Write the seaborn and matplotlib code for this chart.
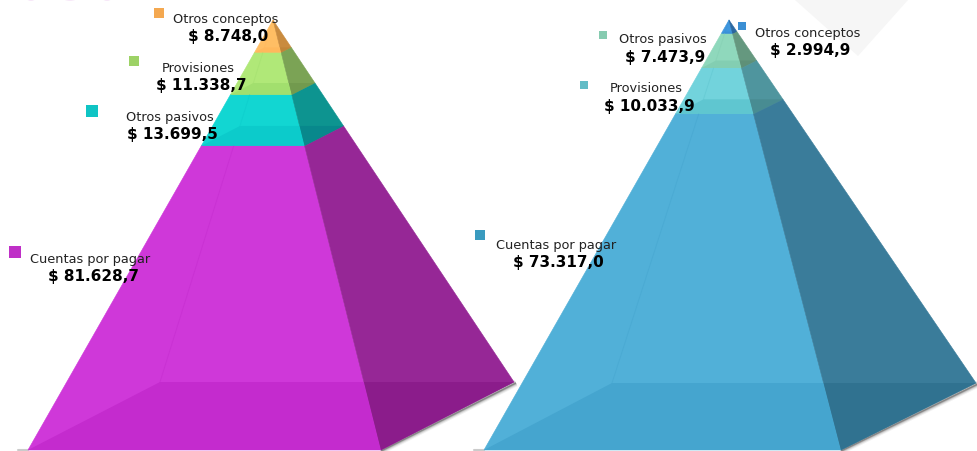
import numpy as np
import pandas as pd
import seaborn as sns
import matplotlib.pyplot as plt

left_categories = ['Otros conceptos', 'Provisiones', 'Otros pasivos', 'Cuentas por pagar']
right_categories = ['Otros conceptos', 'Otros pasivos', 'Provisiones', 'Cuentas por pagar']
left_values = [8748.0, 11338.7, 13699.5, 81628.7]
right_values = [2994.9, 7473.9, 10033.9, 73317.0]
left_value_text = ['$ 8.748,0', '$ 11.338,7', '$ 13.699,5', '$ 81.628,7']
right_value_text = ['$ 2.994,9', '$ 7.473,9', '$ 10.033,9', '$ 73.317,0']

# front, front bottom, side, side bottom
left_colors = [
    ['#ffbe64', '#ffb85c', '#c98b3f', '#c08539'],
    ['#b0e878', '#a2df6e', '#7ba355', '#729a4e'],
    ['#12d6d2', '#0ccbcb', '#0d9490', '#08888c'],
    ['#cf38d9', '#c42bce', '#962796', '#8b1c8b'],
]
right_colors = [
    ['#3f97de', '#3a90d8', '#2c69a2', '#2a639c'],
    ['#8fd8bc', '#83ceb2', '#65987f', '#5e9078'],
    ['#72d3dc', '#5fc6d0', '#4f959e', '#488c92'],
    ['#51b0d8', '#45a5cf', '#3a7c9a', '#307290'],
]
left_marker_colors = ['#f4a850', '#9dd266', '#0fc4c4', '#bf2fc7']
right_marker_colors = ['#3b8fd4', '#86cbb0', '#62bcc6', '#3a9bbf']

# pyramid outline in pixels: apex, front left, front right, back right, back left
left_shape = np.array([[273, 20], [28, 450], [381, 450], [514, 382], [160, 382]], dtype=float)
right_shape = np.array([[729, 20], [484, 450], [841, 450], [976, 383], [612, 383]], dtype=float)

# legend squares and labels (x, y in pixels)
left_squares = [(159, 13), (134, 61), (92, 111), (15, 252)]
right_squares = [(742, 26), (603, 35), (584, 85), (480, 235)]
left_labels = [(226, 19), (198.5, 68), (170, 117), (90.5, 259)]
right_labels = [(808, 33), (662.5, 40), (646.5, 89), (556, 245)]


def point(shape, i, t):
    return shape[0] + (shape[i] - shape[0]) * t


def draw_pyramid(ax, shape, values, colors):
    cuts = np.concatenate([[0], np.cumsum(values) / np.sum(values)])
    # shadow under the base
    for w, a in [(5, 0.08), (3.5, 0.14), (2, 0.25), (1, 0.4)]:
        ax.plot([shape[2][0], shape[3][0] + 2], [shape[2][1] + 1, shape[3][1] + 1],
                color='#444444', lw=w, alpha=a, solid_capstyle='butt', zorder=1)
    ax.plot([shape[1][0] - 10, shape[1][0]], [shape[1][1] - 0.5, shape[1][1] - 0.5],
            color='#999999', lw=1.5, alpha=0.5, zorder=1)
    for k, (t0, t1) in enumerate(zip(cuts[:-1], cuts[1:])):
        front, front_base, side, side_base = colors[k]
        face = [point(shape, 1, t1), point(shape, 2, t1), point(shape, 2, t0), point(shape, 1, t0)]
        ax.fill(*zip(*face), color=front, lw=0.4, zorder=2)
        face = [point(shape, 2, t1), point(shape, 3, t1), point(shape, 3, t0), point(shape, 2, t0)]
        ax.fill(*zip(*face), color=side, lw=0.4, zorder=2)
        # bottom of the slice seen through the front and the side
        a, b, c, d = [point(shape, i, t1) for i in (1, 2, 3, 4)]
        top = point(shape, 2, t0)
        s = (d[1] - a[1]) / (top[1] - b[1])
        crease = b + (top - b) * s
        ax.fill(*zip(a, b, crease, d), color=front_base, lw=0, zorder=3)
        ax.fill(*zip(b, c, crease), color=side_base, lw=0, zorder=3)
        # back edge showing through, stops at the top of the slice front
        y_top = max(point(shape, 1, t0)[1], point(shape, 4, t0)[1])
        t_top = (y_top - shape[0][1]) / (shape[4][1] - shape[0][1])
        back0 = point(shape, 4, t_top)
        ax.plot([back0[0], d[0]], [back0[1], d[1]], color=front_base, lw=0.7, alpha=0.5, zorder=4)


sns.set_theme(style='white')
plt.rcParams['font.family'] = ['DejaVu Sans']

fig, ax = plt.subplots(figsize=(9.78, 4.51), dpi=100)
fig.subplots_adjust(left=0, right=1, top=1, bottom=0)
ax.set_xlim(0, 978)
ax.set_ylim(451, 0)
ax.axis('off')

# faint background shapes
ax.fill([795, 908, 858], [0, 0, 56], color='#f6f6f6', lw=0, zorder=0)
ax.scatter([31, 70, 107], [-6, -14, -6], s=[100, 460, 100], color='#f7e6f8', lw=0, zorder=0, clip_on=True)

draw_pyramid(ax, left_shape, left_values, left_colors)
draw_pyramid(ax, right_shape, right_values, right_colors)

squares = pd.DataFrame({
    'x': [p[0] for p in left_squares + right_squares],
    'y': [p[1] for p in left_squares + right_squares],
    'color': left_marker_colors + right_marker_colors,
    'size': [50, 45, 65, 65, 40, 40, 40, 50],
})
sns.scatterplot(data=squares, x='x', y='y', hue='color', palette=dict(zip(squares['color'], squares['color'])),
                size='size', sizes=(40, 65), marker='s', linewidth=0, legend=False, ax=ax, zorder=5)
ax.set_xlabel('')
ax.set_ylabel('')

for names, texts, positions in [(left_categories, left_value_text, left_labels),
                                (right_categories, right_value_text, right_labels)]:
    for name, text, (x, y) in zip(names, texts, positions):
        ax.text(x, y, name, ha='center', va='center', fontsize=9.3, color='#222222', zorder=6)
        ax.text(x + 2.5, y + 17.5, text, ha='center', va='center', fontsize=11, fontweight='bold', color='black', zorder=6)

fig.savefig('out.png', dpi=100)
